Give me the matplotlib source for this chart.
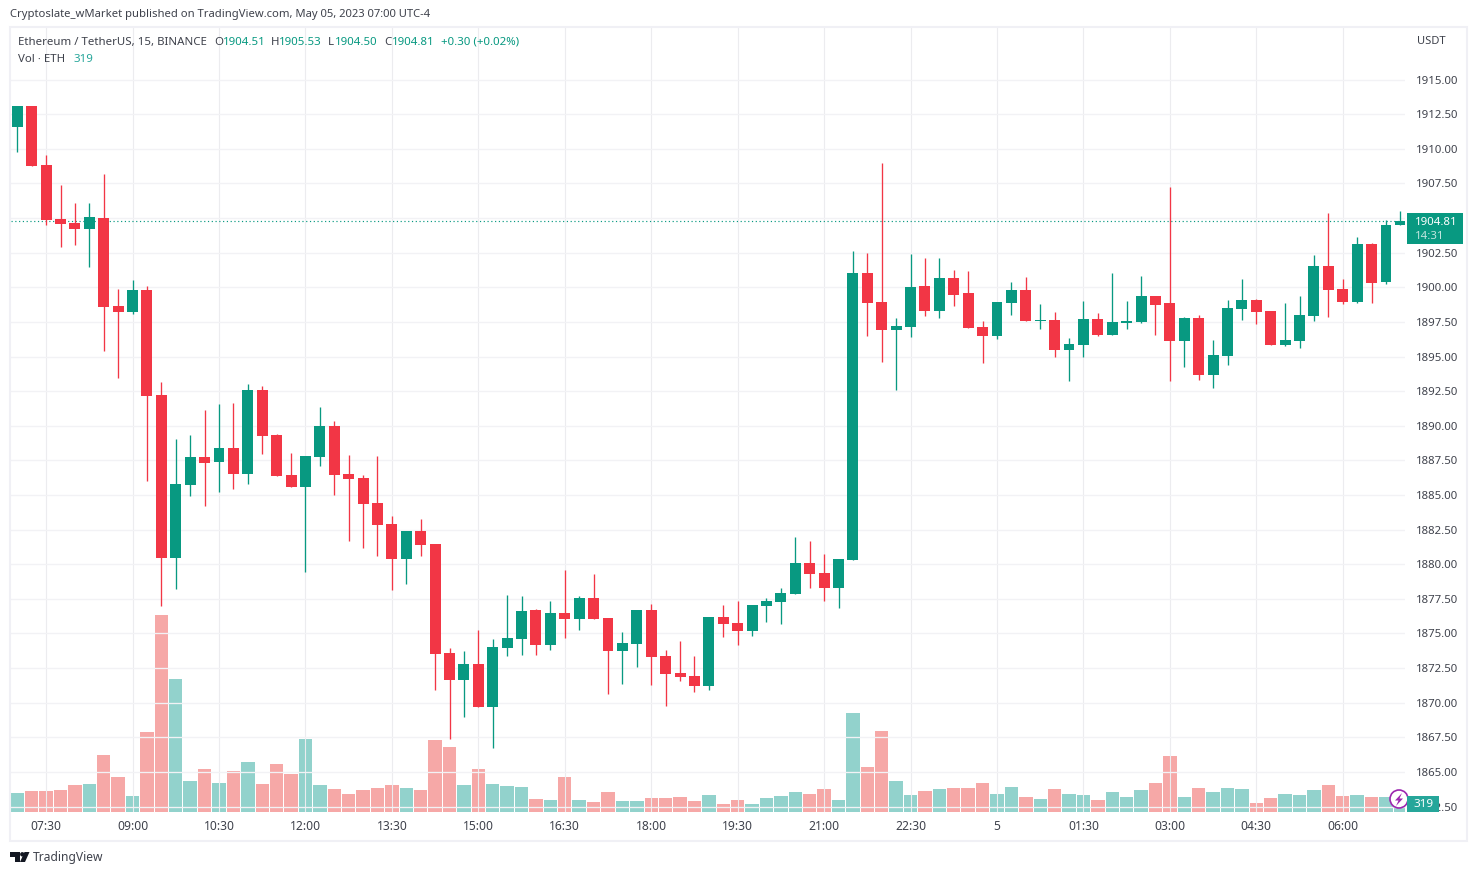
import matplotlib
matplotlib.use("Agg")
import matplotlib.pyplot as plt
from matplotlib.patches import Rectangle, Polygon, Circle
from matplotlib.transforms import Affine2D
import numpy as np

plt.rcParams['font.family'] = ['Noto Sans', 'DejaVu Sans']

opens = [1911.59,1913.09,1908.83,1904.93,1904.64,1904.21,1905.00,1898.65,1898.21,1899.80,
1892.22,1880.47,1885.72,1887.74,1887.38,1888.39,1886.52,1892.58,1889.33,1886.44,
1885.58,1887.74,1889.98,1886.52,1886.23,1884.42,1882.91,1880.38,1882.40,1881.46,
1873.59,1871.64,1872.80,1869.69,1873.95,1874.60,1876.70,1874.17,1876.48,1876.05,
1877.56,1876.12,1873.74,1874.24,1876.70,1873.38,1872.15,1871.93,1871.21,1876.19,
1875.76,1875.18,1876.99,1877.28,1877.85,1880.09,1879.37,1878.29,1880.31,1901.03,
1898.94,1896.91,1897.13,1900.09,1898.29,1900.67,1899.59,1897.13,1896.48,1898.86,
1899.80,1897.56,1897.64,1895.47,1895.83,1897.71,1896.55,1897.42,1897.49,1899.37,
1898.86,1896.12,1897.78,1893.66,1895.04,1898.43,1899.08,1898.29,1895.83,1896.12,
1897.92,1901.53,1899.87,1898.94,1903.12,1900.38,1904.51]
highs = [1913.09,1913.09,1909.55,1907.38,1906.11,1906.11,1908.18,1899.87,1900.52,1900.09,
1893.16,1889.04,1889.33,1891.14,1891.57,1891.64,1893.02,1892.87,1889.41,1888.03,
1887.82,1891.35,1890.34,1887.89,1886.44,1887.82,1883.48,1882.40,1883.27,1881.46,
1873.95,1873.74,1875.25,1874.60,1877.78,1877.71,1876.77,1877.35,1879.59,1877.71,
1879.30,1876.12,1875.11,1876.70,1877.13,1873.81,1874.46,1873.38,1876.19,1877.06,
1877.35,1877.06,1877.56,1878.29,1881.97,1881.68,1880.74,1880.38,1902.62,1902.47,
1908.97,1897.78,1902.40,1902.11,1902.11,1901.25,1901.17,1897.56,1898.94,1900.38,
1900.74,1898.79,1898.21,1896.34,1899.01,1898.14,1901.03,1899.01,1900.81,1899.37,
1907.24,1897.85,1898.00,1896.19,1899.08,1900.60,1899.15,1898.29,1898.86,1899.37,
1902.33,1905.36,1900.60,1903.63,1903.20,1904.86,1905.53]
lows = [1909.79,1908.78,1904.49,1902.93,1903.05,1901.48,1895.40,1893.45,1898.09,1886.01,
1877.01,1878.21,1884.93,1884.21,1885.22,1885.43,1885.80,1887.96,1886.37,1885.58,
1879.44,1887.09,1885.00,1881.68,1881.17,1880.60,1878.14,1878.58,1880.60,1870.92,
1867.38,1868.97,1869.69,1866.73,1873.38,1873.45,1873.45,1873.81,1874.68,1875.25,
1876.05,1870.63,1871.36,1872.58,1871.28,1869.77,1871.57,1870.78,1870.92,1874.75,
1874.17,1874.82,1875.83,1875.69,1877.85,1878.29,1877.35,1876.84,1880.31,1896.48,
1894.60,1892.58,1896.41,1897.92,1897.78,1898.65,1897.06,1894.53,1896.26,1898.00,
1897.56,1896.99,1894.96,1893.23,1894.96,1896.48,1896.55,1896.99,1897.42,1896.55,
1893.23,1894.24,1893.30,1892.73,1894.39,1897.64,1897.35,1895.83,1895.76,1895.61,
1897.56,1897.85,1898.79,1898.86,1898.86,1900.24,1904.50]
closes = [1913.09,1908.78,1904.86,1904.57,1904.21,1905.07,1898.57,1898.21,1899.80,1892.15,
1880.47,1885.80,1887.74,1887.31,1888.39,1886.52,1892.58,1889.26,1886.37,1885.58,
1887.82,1889.98,1886.44,1886.16,1884.35,1882.83,1880.38,1882.40,1881.39,1873.52,
1871.64,1872.80,1869.69,1874.03,1874.68,1876.63,1874.17,1876.48,1876.05,1877.56,
1876.05,1873.74,1874.32,1876.70,1873.30,1872.08,1871.86,1871.21,1876.19,1875.69,
1875.18,1877.06,1877.35,1877.93,1880.09,1879.30,1878.29,1880.38,1901.03,1898.86,
1896.91,1897.20,1900.02,1898.29,1900.67,1899.44,1897.06,1896.48,1898.94,1899.80,
1897.56,1897.64,1895.47,1895.90,1897.71,1896.55,1897.49,1897.56,1899.37,1898.72,
1896.12,1897.78,1893.66,1895.11,1898.50,1899.08,1898.21,1895.83,1896.19,1898.00,
1901.53,1899.80,1898.94,1903.12,1900.31,1904.49,1904.81]
volumes = [1520,1680,1680,1760,2160,2240,4560,2800,1280,6400,
15680,10640,2480,3440,2320,3280,4000,2240,3840,3040,
5840,2160,1840,1440,1760,1920,2160,1920,1760,5760,
5200,2160,3440,2240,2080,2000,1040,960,2800,960,
800,1600,880,880,1120,1120,1200,880,1360,640,
960,640,1120,1280,1600,1440,1840,960,7920,3600,
6480,2480,1360,1680,1840,1920,1920,2320,1440,2000,
1200,1040,1840,1440,1360,960,1600,1200,1760,2320,
4480,1200,1920,1600,1920,1840,720,1120,1440,1360,
1760,2160,1280,1360,1200,1200,319]

time_tick_index = [2,8,14,20,26,32,38,44,50,56,62,68,74,80,86,92]
time_tick_labels = ['07:30','09:00','10:30','12:00','13:30','15:00','16:30','18:00',
                    '19:30','21:00','22:30','5','01:30','03:00','04:30','06:00']
price_ticks = [1862.5+2.5*k for k in range(22)]

GREEN, RED = '#089981', '#F23645'
VOL_UP, VOL_DOWN = '#26A69A', '#EF5350'
GRID_H, GRID_V, FRAME = '#F2F2F5', '#ECECEF', '#F0F0F5'
TXT = '#3F424C'

W, H = 1477, 875
fig = plt.figure(figsize=(W/100, H/100), dpi=100, facecolor='white')
px = Affine2D().scale(1/W, -1/H).translate(0, 1) + fig.transFigure

L, R, T, B = 11, 1405, 28, 812
rect = [L/W, 1-B/H, (R-L)/W, (B-T)/H]
ax_v = fig.add_axes(rect, zorder=1)
ax = fig.add_axes(rect, zorder=2)
ax.patch.set_alpha(0)

n = len(closes)
idx = np.arange(n)
O, Hi, Lo, C = map(np.array, (opens, highs, lows, closes))
up = C >= O
cols = [GREEN if u else RED for u in up]
vcols = [VOL_UP if u else VOL_DOWN for u in up]

xlim = (-0.437, 96.32)
ax.set_xlim(*xlim); ax_v.set_xlim(*xlim)
ax.set_ylim(1862.11, 1918.72)
ax_v.set_ylim(0, (B-T)*79.75)

ax_v.bar(idx, volumes, width=0.93, color=vcols, alpha=0.5, linewidth=0)
ax_v.set_xticks([]); ax_v.set_yticks([])
for s in ax_v.spines.values():
    s.set_visible(False)

ax.vlines(idx, Lo, Hi, colors=cols, linewidth=0.95, zorder=3)
ax.bar(idx, np.maximum(np.abs(C-O), 0.06), bottom=np.minimum(O, C), width=0.76,
       color=cols, linewidth=0, zorder=4)
ax.axhline(closes[-1], color=GREEN, linewidth=0.85, linestyle=(0, (1, 2.2)), zorder=2)

ax.set_xticks(time_tick_index)
ax.set_xticklabels(time_tick_labels)
ax.set_yticks(price_ticks)
ax.yaxis.tick_right()
ax.yaxis.set_major_formatter(plt.FuncFormatter(lambda v, p: f'{v:.2f}'))
ax.tick_params(axis='both', length=0, labelcolor=TXT)
ax.tick_params(axis='y', pad=7.6, labelsize=8.2)
ax.tick_params(axis='x', pad=5.5, labelsize=8.7)
ax.grid(True, axis='y', color=GRID_H, linewidth=0.95)
ax.grid(True, axis='x', color=GRID_V, linewidth=0.8)
ax.set_axisbelow(True)
for s in ax.spines.values():
    s.set_visible(False)

def box(x0, y0, x1, y1, **kw):
    p = Rectangle((x0, y0), x1-x0, y1-y0, transform=px, zorder=5, linewidth=kw.pop('lw', 0), **kw)
    fig.add_artist(p)
    return p

def label(x, y, s, color=TXT, size=8.25, **kw):
    kw.setdefault('va', 'center')
    return fig.text(x/W, 1-y/H, s, color=color, fontsize=size, zorder=7, **kw)

# outer frame
box(9.5, 27, 1467, 840.5, fill=False, edgecolor=FRAME, lw=1.5)

# header
label(10, 14.5, 'Cryptoslate_wMarket published on TradingView.com, May 05, 2023 07:00 UTC-4', size=8.1)
label(18, 42.5, 'Ethereum / TetherUS, 15, BINANCE')
for x, s, c in [(214, 'O', TXT), (223, '1904.51', GREEN), (271, 'H', TXT), (279, '1905.53', GREEN),
                (328, 'L', TXT), (334.5, '1904.50', GREEN), (384, 'C', TXT), (392, '1904.81', GREEN),
                (441, '+0.30 (+0.02%)', GREEN)]:
    label(x, 42.5, s, color=c)
label(18, 59, 'Vol · ETH')
label(74, 59, '319', color='#26A69A')
label(1417, 41, 'USDT', size=8.0)

# current price tag
box(1407, 213, 1463, 244, facecolor=GREEN)
label(1415, 222, '1904.81', color='white', size=8.2, fontweight='bold')
label(1415, 236, '14:31', color='#BFE5DE', size=8.2, fontweight='bold')

# lightning badge
fig.add_artist(Circle((1399, 799), 9, transform=px, facecolor='white', edgecolor='#9C27B0',
                      linewidth=1.2, zorder=5))
fig.add_artist(Polygon([(1402, 793), (1395, 800.5), (1398.5, 800.5), (1396, 806), (1403, 798.5), (1399.5, 798.5)],
                       closed=True, transform=px, facecolor='#9C27B0', linewidth=0, zorder=5))

# volume tag
box(1407, 796, 1439, 812, facecolor='#26A69A')
label(1423, 804.5, '319', color='white', size=8.4, ha='center', fontweight='bold')

# TradingView logo
logo = '#131722'
fig.add_artist(Polygon([(10, 852), (19.5, 852), (19.5, 862), (14.5, 862), (14.5, 856.5), (10, 856.5)],
                       closed=True, transform=px, facecolor=logo, linewidth=0, zorder=5))
fig.add_artist(Circle((22.3, 854.3), 2.2, transform=px, facecolor=logo, linewidth=0, zorder=5))
fig.add_artist(Polygon([(24.5, 852), (29.5, 852), (25, 862), (20, 862)],
                       closed=True, transform=px, facecolor=logo, linewidth=0, zorder=5))
label(33, 857.5, 'TradingView', size=8.7)

fig.savefig('out.png', dpi=100, facecolor='white')
